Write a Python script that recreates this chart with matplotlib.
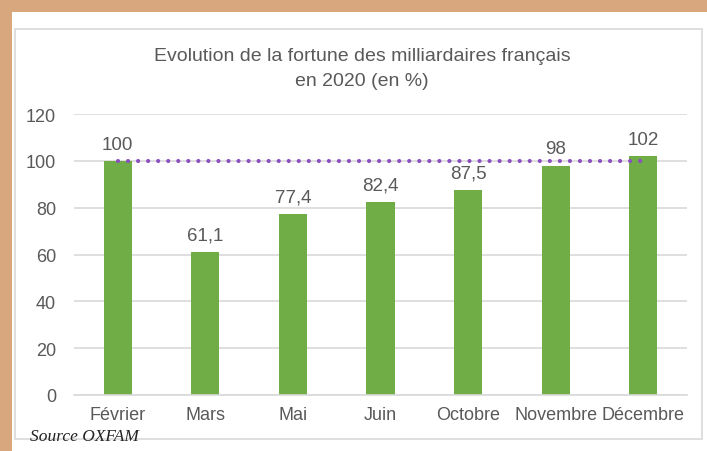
import matplotlib.pyplot as plt
from matplotlib.patches import Rectangle

months = ["Février", "Mars", "Mai", "Juin", "Octobre", "Novembre", "Décembre"]
values = [100, 61.1, 77.4, 82.4, 87.5, 98, 102]
labels = ["100", "61,1", "77,4", "82,4", "87,5", "98", "102"]
reference = 100

plt.rcParams["font.family"] = ["Liberation Sans", "DejaVu Sans"]
grey = "#595959"

fig = plt.figure(figsize=(7.07, 4.52), dpi=100)
fig.patch.set_facecolor("white")

# tan border (top and left) and the light chart frame
tan = "#d9a77d"
fig.patches.append(Rectangle((0, 439 / 452), 1, 13 / 452, transform=fig.transFigure,
                             facecolor=tan, edgecolor="none", zorder=0))
fig.patches.append(Rectangle((0, 0), 12 / 707, 1, transform=fig.transFigure,
                             facecolor=tan, edgecolor="none", zorder=0))
fig.patches.append(Rectangle((15 / 707, 12 / 452), 687 / 707, 410 / 452,
                             transform=fig.transFigure, facecolor="none",
                             edgecolor="#d9d9d9", lw=1.2, zorder=0))

ax = fig.add_axes([74 / 707, 56 / 452, 613 / 707, 281 / 452])
ax.set_zorder(2)
ax.set_facecolor("none")
x = range(len(months))
bars = ax.bar(x, values, width=0.32, color="#70ad47", zorder=2)

for xi, v, lab in zip(x, values, labels):
    ax.annotate(lab, (xi, v), xytext=(0, 6), textcoords="offset points",
                ha="center", va="bottom", fontsize=13.5, color=grey)

ax.plot([0, len(months) - 1], [reference, reference], color="#8b4fc2", lw=3,
        linestyle=(0, (0.01, 2.4)), dash_capstyle="round", zorder=3)

ax.set_xlim(-0.5, len(months) - 0.5)
ax.set_ylim(0, 120)
ax.set_yticks(range(0, 121, 20))
ax.set_xticks(list(x))
ax.set_xticklabels(months)
ax.grid(axis="y", color="#d9d9d9", lw=1.2, zorder=0)
ax.set_axisbelow(True)
for side in ["top", "right", "left"]:
    ax.spines[side].set_visible(False)
ax.spines["bottom"].set_color("#d9d9d9")
ax.spines["bottom"].set_linewidth(1.2)
ax.tick_params(axis="both", length=0, labelsize=13, labelcolor=grey)
ax.tick_params(axis="y", pad=13)
ax.tick_params(axis="x", pad=8)

fig.text(0.512, 1 - 69 / 452, "Evolution de la fortune des milliardaires français\nen 2020 (en %)",
         ha="center", va="center", fontsize=14, color=grey, linespacing=1.55)
fig.text(30 / 707, 1 - 437 / 452, "Source OXFAM", ha="left", va="center",
         fontsize=12.5, style="italic", family="Liberation Serif", color="#222222")

fig.savefig("out.png", dpi=100)
